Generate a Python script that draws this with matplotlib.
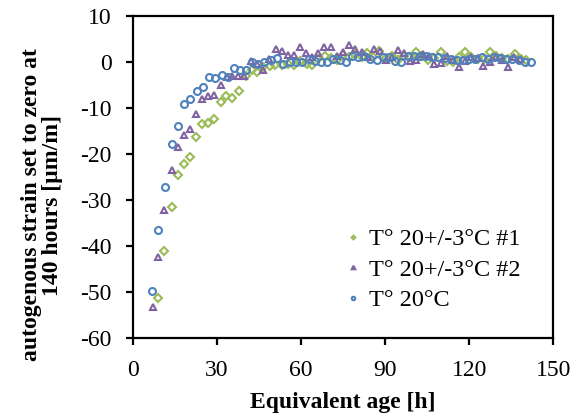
import matplotlib
matplotlib.use("Agg")
import matplotlib.pyplot as plt

plt.rcParams['font.family'] = ['Liberation Serif', 'DejaVu Serif']
plt.rcParams['axes.unicode_minus'] = False

# ---- data ------------------------------------------------------------------
age_ref = [6.8, 9.1, 11.4, 13.9, 16.1, 18.4, 20.5, 22.8, 25.1, 27.3, 29.3, 31.7,
           34.1, 36.2, 38.2, 40.3, 42.4, 44.8, 46.9, 49.3, 51.6, 53.7, 56.0, 58.2,
           60.4, 62.8, 65.0, 67.2, 69.4, 71.6, 73.8, 76.0, 78.2, 80.4, 82.6, 84.8,
           87.0, 89.2, 91.4, 93.6, 95.8, 98.0, 100.2, 102.4, 104.6, 106.8, 109.0,
           111.2, 113.4, 115.6, 117.8, 120.0, 122.2, 124.4, 126.6, 128.8, 131.0,
           133.2, 135.4, 137.6, 139.8, 141.9]
strain_ref = [-49.8, -36.5, -27.1, -17.9, -13.9, -9.1, -8.1, -6.2, -5.5, -3.2, -3.4,
              -2.9, -3.2, -1.4, -1.7, -1.7, 0.0, -0.5, -0.1, 0.4, 0.9, -0.4, 0.0, 0.0,
              -0.1, 0.6, 0.3, 0.1, 0.0, 0.6, 0.4, 0.1, 1.4, 1.1, 1.4, 0.7, 0.4, 1.1,
              1.1, 0.3, 0.0, 1.3, 1.4, 1.4, 1.4, 1.1, 1.1, 0.8, 0.7, 0.4, 0.5, 0.7,
              0.7, 1.1, 0.7, 1.0, 0.8, 0.7, 0.7, 0.4, 0.1, 0.0]

age_var2 = [7.2, 9.0, 11.0, 13.9, 16.0, 18.2, 20.3, 22.7, 24.8, 27.0, 29.0, 31.5,
            33.7, 35.5, 37.6, 39.8, 42.2, 44.2, 46.5, 48.6, 51.0, 53.1, 55.3, 57.6,
            59.7, 61.9, 64.0, 66.2, 68.3, 70.7, 72.8, 75.1, 77.3, 79.4, 81.6, 83.8,
            85.9, 88.1, 90.2, 92.4, 94.6, 96.8, 99.0, 101.2, 103.4, 105.6, 107.6,
            109.8, 112.1, 114.2, 116.3, 118.6, 120.8, 123.0, 125.1, 127.4, 129.6,
            131.7, 133.8, 136.0, 138.2]
strain_var2 = [-53.3, -42.4, -32.1, -23.5, -18.4, -15.9, -14.6, -11.3, -8.1, -7.4,
               -7.2, -4.9, -3.3, -3.0, -3.0, -3.0, 0.2, -0.4, -1.8, 0.6, 2.8, 2.4,
               1.5, 1.6, 3.2, 1.9, 1.1, 2.0, 3.3, 3.2, 1.3, 2.2, 3.8, 2.9, 2.2, 1.1,
               2.8, 2.5, 0.4, 1.0, 2.7, 2.0, 0.3, 0.4, 1.8, 1.2, -0.4, -0.2, 1.3, 0.5,
               -1.0, 0.2, 1.0, 0.8, -0.8, 0.0, 1.1, 0.4, -1.0, 1.1, 0.6]

age_var1 = [9.0, 11.0, 13.9, 16.0, 18.2, 20.3, 22.7, 24.7, 26.8, 29.0, 31.5, 33.4,
            35.5, 37.8, 40.3, 42.6, 44.4, 46.5, 48.9, 50.9, 53.1, 55.5, 57.6, 59.6,
            62.0, 64.0, 66.2, 68.4, 70.6, 72.9, 74.9, 77.0, 79.4, 81.6, 83.7, 85.8,
            88.0, 90.2, 92.4, 94.6, 96.8, 99.0, 101.0, 103.2, 105.4, 107.6, 109.8,
            112.0, 114.1, 116.3, 118.6, 120.8, 123.0, 125.2, 127.4, 129.6, 131.7,
            133.9, 136.2, 138.3, 140.3]
strain_var1 = [-51.3, -41.0, -31.5, -24.6, -22.2, -20.7, -16.2, -13.5, -13.3, -12.4,
               -8.7, -7.4, -7.8, -6.4, -3.1, -1.8, -2.1, -1.1, -0.8, -0.7, -0.7, -0.4,
               -0.7, 0.2, -0.5, -0.6, 0.6, 1.2, 0.9, 0.4, 1.6, 1.1, 1.7, 1.0, 2.0, 1.1,
               2.4, 0.8, 1.3, 0.4, 1.2, 1.0, 2.2, 1.4, 0.4, 0.8, 2.1, 0.3, 0.0, 1.1,
               2.1, 1.0, 0.7, 0.7, 2.1, 1.4, 0.9, 0.7, 1.7, 0.7, 0.4]

labels = ["T° 20+/-3°C #1", "T° 20+/-3°C #2", "T° 20°C"]

# ---- plot ------------------------------------------------------------------
fig = plt.figure(figsize=(5.78, 4.18), dpi=100)
ax = fig.add_axes([0.2296, 0.1914, 0.7277, 0.7703])

ax.plot(age_var1, strain_var1, ls='none', marker='D', ms=3.8, mfc='none',
        mec='#9BBB59', mew=1.5, label=labels[0])
ax.plot(age_var2, strain_var2, ls='none', marker='^', ms=5.0, mfc='none',
        mec='#8064A2', mew=1.5, label=labels[1])
ax.plot(age_ref, strain_ref, ls='none', marker='o', ms=5.0, mfc='none',
        mec='#4F81BD', mew=1.5, label=labels[2])

ax.set_xlim(0, 150)
ax.set_ylim(-60, 10)
ax.set_xticks(range(0, 151, 30))
ax.set_yticks(range(-60, 11, 10))

for s in ax.spines.values():
    s.set_linewidth(1.6)
ax.tick_params(direction='out', length=5, width=1.6, labelsize=17)
ax.tick_params(axis='x', pad=11)
ax.tick_params(axis='y', pad=10)

ax.set_xlabel("Equivalent age [h]", fontsize=17, fontweight='bold', labelpad=8)
ax.set_ylabel("autogenous strain set to zero at\n140 hours [µm/m]",
              fontsize=17, fontweight='bold', linespacing=1.0)
ax.yaxis.set_label_coords(-0.166, 0.413)

ax.legend(loc='upper left', bbox_to_anchor=(0.47, 0.394), frameon=False,
          fontsize=17.5, markerscale=0.5, handlelength=0.5, handletextpad=0.4,
          labelspacing=0.35, borderpad=0.2)

fig.savefig("out.png", dpi=100)
